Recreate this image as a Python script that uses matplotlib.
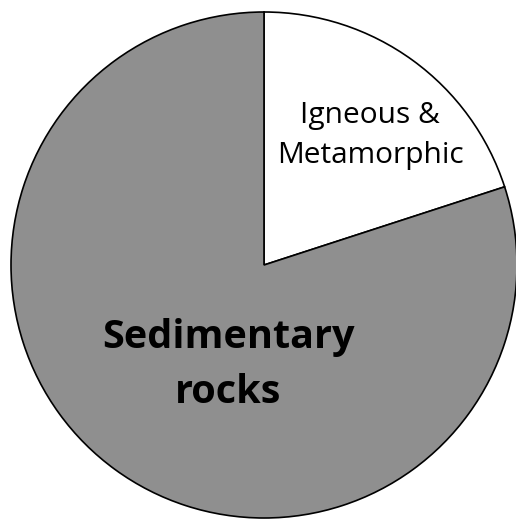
import matplotlib.pyplot as plt

# slice shares (percent)
labels = ["Igneous &\nMetamorphic", "Sedimentary\nrocks"]
shares = [20, 80]
colors = ["#ffffff", "#8f8f8f"]

fig = plt.figure(figsize=(5.16, 5.2), dpi=100)
ax = fig.add_axes([0, 0, 1, 1])

# work in pixel-like data coords so the circle sits where it does in the original
ax.pie(shares, colors=colors, startangle=90, counterclock=False,
       center=(264, 255), radius=253,
       wedgeprops={"edgecolor": "black", "linewidth": 1.2})
ax.set_xlim(0, 516)
ax.set_ylim(0, 520)
ax.set_aspect("equal")
ax.axis("off")

# labels, one text per line so the spacing can be matched
ax.text(370, 397, "Igneous &", ha="center", va="baseline",
        fontsize=21.5, family="Open Sans", color="black")
ax.text(370, 357, "Metamorphic", ha="center", va="baseline",
        fontsize=21.5, family="Open Sans", color="black")
ax.text(228, 172, "Sedimentary", ha="center", va="baseline",
        fontsize=28.5, family="Open Sans", fontweight="bold", color="black")
ax.text(228, 117, "rocks", ha="center", va="baseline",
        fontsize=28.5, family="Open Sans", fontweight="bold", color="black")

fig.savefig("out.png", dpi=100)
